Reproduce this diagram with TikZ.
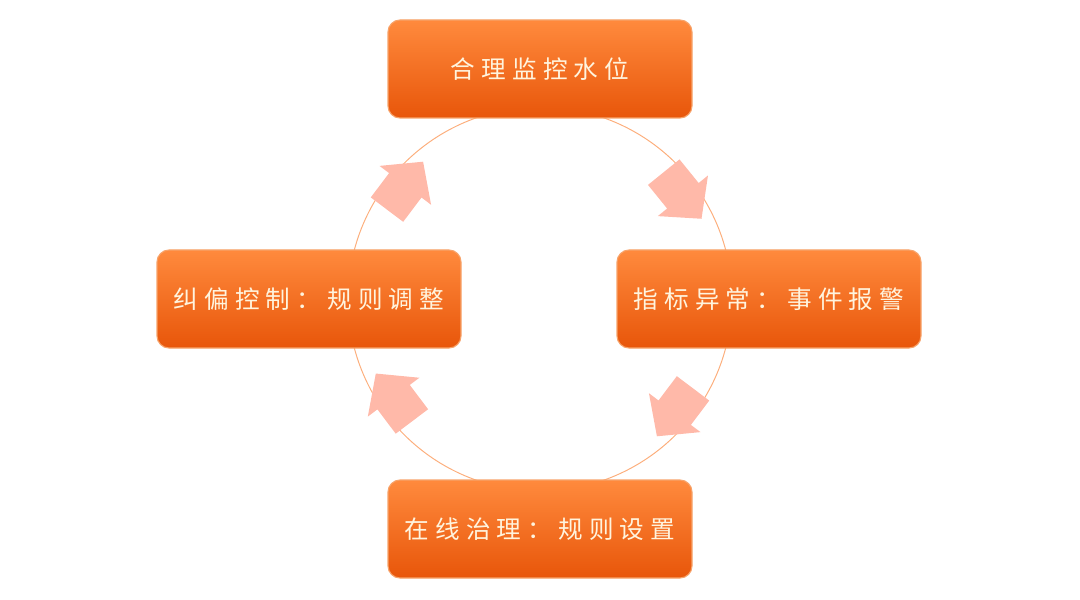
\documentclass[tikz,border=0pt]{standalone}
\usepackage{fontspec}
\usepackage{xcolor}
\usetikzlibrary{shapes.arrows}
\newfontfamily\cjk[LetterSpace=25]{Noto Sans CJK SC}
\definecolor{boxtop}{HTML}{FF8A3D}
\definecolor{boxbottom}{HTML}{E8560A}
\definecolor{boxedge}{HTML}{F7A36A}
\definecolor{boxtext}{HTML}{FFF4DE}
\definecolor{ringline}{HTML}{FCAE7C}
\definecolor{arrowfill}{HTML}{FFB9A9}

\begin{document}
\begin{tikzpicture}[
  stage/.style={rectangle, rounded corners=3mm, draw=boxedge, line width=0.8pt, top color=boxtop, bottom color=boxbottom, minimum width=7.6cm, minimum height=2.45cm, align=center, text=boxtext, font=\cjk\fontsize{17.5}{20}\selectfont},
  flow/.style={single arrow, draw=none, fill=arrowfill, minimum height=1.5cm, inner xsep=0pt, inner ysep=0.5cm, single arrow head extend=0.3cm, single arrow tip angle=95},
  ring/.style={draw=ringline, line width=0.7pt}
]
\useasboundingbox (0,0) rectangle (27,14.975);
\coordinate (c) at (13.5,7.5);
\draw[ring] (c) circle (4.8cm);

\node[flow, rotate=-51] (toright) at ([shift={(39:4.4)}]c) {};
\node[flow, rotate=-127] (tobottom) at ([shift={(-37:4.4)}]c) {};
\node[flow, rotate=127] (toleft) at ([shift={(217:4.4)}]c) {};
\node[flow, rotate=53] (totop) at ([shift={(143:4.4)}]c) {};

\node[stage] (watch) at (13.5,13.25) {合理监控水位};
\node[stage] (alarm) at (19.225,7.5) {指标异常：事件报警};
\node[stage] (govern) at (13.5,1.75) {在线治理：规则设置};
\node[stage] (adjust) at (7.725,7.5) {纠偏控制：规则调整};
\end{tikzpicture}
\end{document}
